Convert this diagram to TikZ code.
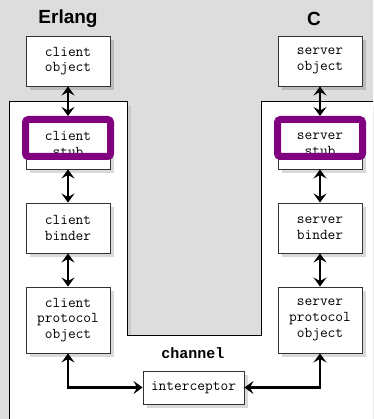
\documentclass[tikz,border=0pt]{standalone}
\usepackage{fontspec}
\setmainfont{Liberation Sans}
\newfontfamily\chfont{Liberation Mono}
\usetikzlibrary{arrows.meta}
\definecolor{bggray}{HTML}{DDDDDD}
\definecolor{hlpurple}{HTML}{800080}
\begin{document}
\begin{tikzpicture}[x=1pt,y=-1pt,
  compbox/.style={draw=black!80, line width=0.9pt, fill=white, minimum width=84pt,
    inner sep=0pt, align=center, font=\ttfamily\fontsize{15}{15.7}\selectfont,
    preaction={fill=black, opacity=0.15, transform canvas={shift={(4pt,-4pt)}}}},
  twoline/.style={compbox, minimum height=50pt},
  threeline/.style={compbox, minimum height=66pt},
  hilite/.style={draw=hlpurple, line width=7pt, rounded corners=3pt, minimum width=85pt,
    minimum height=37pt, inner sep=0pt},
  dbl/.style={line width=2.6pt, {Stealth[length=9pt,width=13pt,inset=3.5pt]}-{Stealth[length=9pt,width=13pt,inset=3.5pt]}},
  title/.style={font=\bfseries\fontsize{19}{22}\selectfont, inner sep=0pt}
]
\useasboundingbox (0,0) rectangle (373,419);
\fill[bggray] (0,0) rectangle (373,419);
% channel region shadow and fill
\fill[black, opacity=0.08] (13,423) -- (13,106) -- (131,106) -- (131,339) -- (265,339) -- (265,106) -- (377,106) -- (377,423) -- cycle;
\fill[white] (9,419) -- (9,102) -- (127,102) -- (127,335) -- (261,335) -- (261,102) -- (373,102) -- (373,419) -- cycle;
\draw[black, line width=1pt] (9,419) -- (9,102) -- (127,102) -- (127,335) -- (261,335) -- (261,102) -- (373,102);

% titles
\node[title] (terl) at (68,19) {Erlang};
\node[title] (tc) at (314,19) {C};
\node[font=\chfont\bfseries\fontsize{15}{18}\selectfont, inner sep=0pt] (tch) at (193,353) {channel};

% client side
\node[twoline] (cobj) at (68,61) {client\\object};
\node[twoline] (cstub) at (68,144) {client\\stub};
\node[twoline] (cbind) at (68,228) {client\\binder};
\node[threeline] (cproto) at (68,320) {client\\protocol\\object};
% server side
\node[twoline] (sobj) at (320,61) {server\\object};
\node[twoline] (sstub) at (320,144) {server\\stub};
\node[twoline] (sbind) at (320,228) {server\\binder};
\node[threeline] (sproto) at (320,320) {server\\protocol\\object};
% interceptor
\node[compbox, minimum width=101pt, minimum height=33pt] (icpt) at (193.5,387.5) {interceptor};

% highlights
\node[hilite] (chl) at (68,138) {};
\node[hilite] (shl) at (320,138) {};

% connectors
\draw[dbl] (cobj.south) -- (chl.north);
\draw[dbl] (cstub.south) -- (cbind.north);
\draw[dbl] (cbind.south) -- (cproto.north);
\draw[dbl] (sobj.south) -- (shl.north);
\draw[dbl] (sstub.south) -- (sbind.north);
\draw[dbl] (sbind.south) -- (sproto.north);
\draw[dbl] (cproto.south) |- (icpt.west);
\draw[dbl] (sproto.south) |- (icpt.east);
\end{tikzpicture}
\end{document}
